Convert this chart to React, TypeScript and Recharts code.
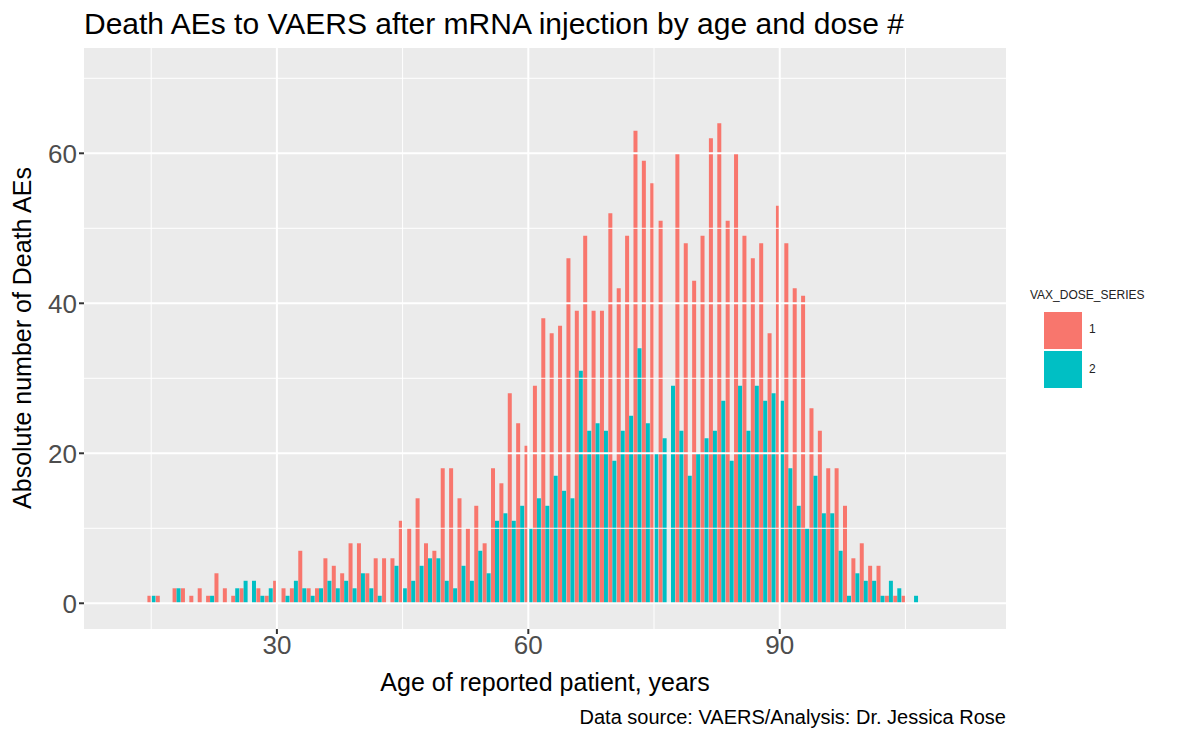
import { Bar, BarChart, CartesianGrid, ReferenceLine, XAxis, YAxis } from 'recharts';

// ages 15..106, one row per year of age
const ages = [
  15, 16, 17, 18, 19, 20, 21, 22, 23, 24, 25, 26, 27, 28, 29, 30, 31, 32, 33, 34,
  35, 36, 37, 38, 39, 40, 41, 42, 43, 44, 45, 46, 47, 48, 49, 50, 51, 52, 53, 54,
  55, 56, 57, 58, 59, 60, 61, 62, 63, 64, 65, 66, 67, 68, 69, 70, 71, 72, 73, 74,
  75, 76, 77, 78, 79, 80, 81, 82, 83, 84, 85, 86, 87, 88, 89, 90, 91, 92, 93, 94,
  95, 96, 97, 98, 99, 100, 101, 102, 103, 104, 105, 106,
];

const dose1 = [
  1, 1, 0, 2, 2, 1, 2, 1, 4, 2, 1, 2, 0, 2, 1, 3, 2, 2, 7, 2,
  2, 6, 5, 4, 8, 8, 4, 6, 6, 6, 11, 10, 14, 8, 7, 18, 18, 14, 10, 13,
  8, 18, 16, 28, 24, 21, 29, 38, 36, 37, 46, 39, 49, 39, 39, 52, 42, 49, 63, 59,
  56, 51, 0, 60, 48, 43, 49, 62, 64, 51, 60, 49, 46, 48, 36, 53, 48, 42, 41, 26,
  23, 18, 18, 13, 6, 8, 5, 5, 1, 1, 1, 0,
];

const dose2 = [
  1, 0, 0, 2, 0, 0, 0, 1, 0, 0, 2, 3, 3, 1, 2, 0, 1, 3, 2, 1,
  2, 3, 2, 3, 2, 4, 2, 1, 0, 5, 2, 3, 5, 6, 6, 3, 2, 5, 3, 7,
  4, 11, 12, 11, 13, 10, 14, 13, 17, 15, 14, 31, 23, 24, 23, 19, 23, 25, 34, 24,
  20, 22, 29, 23, 17, 20, 22, 23, 27, 19, 29, 23, 29, 27, 28, 27, 18, 13, 10, 17,
  12, 12, 7, 1, 4, 3, 3, 1, 3, 2, 0, 1,
];

const xTicks = [30, 60, 90];
const xMinor = [15, 45, 75, 105];
const yTicks = [0, 20, 40, 60];
const yMinor = [10, 30, 50, 70];

const data = ages.map((age, i) => ({ age, d1: dose1[i], d2: dose2[i] }));

const FONT = '"Liberation Sans", Arial, sans-serif';

export default function App() {
  return (
    <div
      style={{
        position: 'absolute',
        left: 0,
        top: 0,
        width: 1184,
        height: 730,
        background: '#fff',
        fontFamily: FONT,
      }}
    >
      <BarChart
        width={1184}
        height={730}
        data={data}
        margin={{ top: 48, right: 178, bottom: 71, left: 44 }}
        barGap={0}
        barCategoryGap="5%"
      >
        <CartesianGrid fill="#EBEBEB" horizontal={false} vertical={false} stroke="none" />

        {/* grid lines under the bars */}
        {yMinor.map((v) => (
          <ReferenceLine key={'ym' + v} y={v} stroke="#fff" strokeWidth={1} />
        ))}
        {xMinor.map((v) => (
          <ReferenceLine key={'xm' + v} x={v} stroke="#fff" strokeWidth={1} />
        ))}
        {yTicks.map((v) => (
          <ReferenceLine key={'y' + v} y={v} stroke="#fff" strokeWidth={2} />
        ))}
        {xTicks.map((v) => (
          <ReferenceLine key={'x' + v} x={v} stroke="#fff" strokeWidth={2} />
        ))}

        <XAxis
          dataKey="age"
          type="category"
          ticks={xTicks}
          interval={0}
          padding={{ left: 63, right: 88 }}
          axisLine={false}
          tickLine={{ stroke: '#333', strokeWidth: 2 }}
          tickSize={5}
          height={30}
          tick={{ fill: '#4D4D4D', fontSize: 26, fontFamily: FONT }}
        />
        <YAxis
          type="number"
          domain={[-3.43, 74.04]}
          allowDataOverflow
          ticks={yTicks}
          interval={0}
          width={40}
          axisLine={false}
          tickLine={{ stroke: '#333', strokeWidth: 2 }}
          tickSize={5}
          tick={{ fill: '#4D4D4D', fontSize: 26, fontFamily: FONT }}
        />

        <Bar dataKey="d1" fill="#F8766D" isAnimationActive={false} />
        <Bar dataKey="d2" fill="#00BFC4" isAnimationActive={false} />
      </BarChart>

      {/* TITLE */}
      <div
        style={{
          position: 'absolute',
          left: 84,
          top: 7,
          fontSize: 30,
          color: '#000',
          whiteSpace: 'nowrap',
        }}
      >
        Death AEs to VAERS after mRNA injection by age and dose #
      </div>

      {/* AXIS TITLES */}
      <div
        style={{
          position: 'absolute',
          left: 545,
          top: 668,
          transform: 'translateX(-50%)',
          fontSize: 25,
          whiteSpace: 'nowrap',
        }}
      >
        Age of reported patient, years
      </div>
      <div
        style={{
          position: 'absolute',
          left: 22,
          top: 338,
          transform: 'translate(-50%, -50%) rotate(-90deg)',
          fontSize: 25,
          whiteSpace: 'nowrap',
        }}
      >
        Absolute number of Death AEs
      </div>

      {/* CAPTION */}
      <div
        style={{
          position: 'absolute',
          right: 1184 - 1006,
          top: 706,
          fontSize: 20,
          whiteSpace: 'nowrap',
        }}
      >
        Data source: VAERS/Analysis: Dr. Jessica Rose
      </div>

      {/* LEGEND */}
      <div style={{ position: 'absolute', left: 1030, top: 288, fontSize: 12, color: '#222', whiteSpace: 'nowrap' }}>
        VAX_DOSE_SERIES
      </div>
      <div style={{ position: 'absolute', left: 1043, top: 311, width: 40, height: 39, background: '#F8766D', border: '1px solid #fff', boxSizing: 'border-box' }} />
      <div style={{ position: 'absolute', left: 1043, top: 350, width: 40, height: 39, background: '#00BFC4', border: '1px solid #fff', boxSizing: 'border-box' }} />
      <div style={{ position: 'absolute', left: 1089, top: 322, fontSize: 12, color: '#222' }}>1</div>
      <div style={{ position: 'absolute', left: 1089, top: 362, fontSize: 12, color: '#222' }}>2</div>
    </div>
  );
}
